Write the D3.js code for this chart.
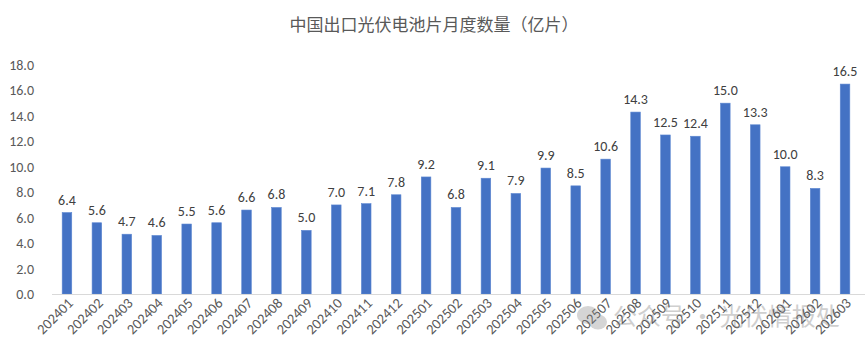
<!DOCTYPE html>
<html><head><meta charset="utf-8">
<script src="https://cdn.jsdelivr.net/npm/d3@7"></script>
<style>
html,body{margin:0;padding:0;background:#fff;}
svg{display:block;font-family:Calibri,Carlito,"Liberation Sans","Noto Sans",sans-serif;}
</style></head>
<body>
<svg id="c" width="865" height="356"></svg>
<script>
const categories = ["202401","202402","202403","202404","202405","202406","202407","202408","202409","202410","202411","202412","202501","202502","202503","202504","202505","202506","202507","202508","202509","202510","202511","202512","202601","202602","202603"];
const values = [6.4,5.6,4.7,4.6,5.5,5.6,6.6,6.8,5.0,7.0,7.1,7.8,9.2,6.8,9.1,7.9,9.9,8.5,10.6,14.3,12.5,12.4,15.0,13.3,10.0,8.3,16.5];
const yTicks = [0,2,4,6,8,10,12,14,16,18];
const title = "中国出口光伏电池片月度数量（亿片）";
const watermark = "公众号 · 光伏情报处";

const svg = d3.select("#c");
const m = {left:52, right:5, top:65, bottom:62};
const W = 865, H = 356;
const x = d3.scaleBand().domain(categories).range([m.left, W - m.right]).paddingInner(0.68).paddingOuter(0.34);
const y = d3.scaleLinear().domain([0,18]).range([H - m.bottom, m.top]);

svg.append("text").attr("x", 434).attr("y", 31).attr("text-anchor","middle")
  .attr("font-family","'Noto Sans CJK SC',sans-serif").attr("font-size",17).attr("fill","#595959").text(title);

// y axis labels
const ya = svg.append("g").attr("transform",`translate(${m.left},0)`)
  .call(d3.axisLeft(y).tickValues(yTicks).tickFormat(d3.format(".1f")).tickSize(0).tickPadding(18));
ya.select(".domain").remove();
ya.selectAll("text").attr("font-size",14).attr("fill","#595959").attr("font-family","Carlito,'Liberation Sans',sans-serif");

// bars
svg.append("g").selectAll("rect").data(values).join("rect")
  .attr("x",(d,i)=>x(categories[i])).attr("width",x.bandwidth())
  .attr("y",d=>y(d)).attr("height",d=>y(0)-y(d))
  .attr("fill","#4472C4").attr("stroke","#5b86d1").attr("stroke-width",0.6);

// value labels
svg.append("g").selectAll("text").data(values).join("text")
  .attr("x",(d,i)=>x(categories[i])+x.bandwidth()/2).attr("y",d=>y(d)-8)
  .attr("text-anchor","middle").attr("font-size",14).attr("fill","#404040")
  .attr("font-family","Carlito,'Liberation Sans',sans-serif")
  .text(d=>d3.format(".1f")(d));

// x axis
const xa = svg.append("g").attr("transform",`translate(0,${y(0)})`)
  .call(d3.axisBottom(x).tickSize(0).tickPadding(0));
xa.select(".domain").attr("stroke","#d9d9d9").attr("stroke-width",1).attr("d",`M${m.left},0.5H${W}`);
xa.selectAll("text").attr("font-size",14.5).attr("fill","#595959")
  .attr("font-family","Carlito,'Liberation Sans',sans-serif")
  .attr("text-anchor","end").attr("dy",null).attr("y",0)
  .attr("transform","translate(7,10) rotate(-45)");

// watermark
const wm = svg.append("g").attr("opacity",0.35);
wm.append("ellipse").attr("cx",588).attr("cy",315).attr("rx",11).attr("ry",9).attr("fill","#888");
wm.append("ellipse").attr("cx",598).attr("cy",322).attr("rx",9).attr("ry",7.5).attr("fill","#888");
wm.append("text").attr("x",613).attr("y",325).attr("font-size",24)
  .attr("font-family","'Noto Sans CJK SC',sans-serif").attr("fill","#777").text(watermark);
</script>
</body></html>
